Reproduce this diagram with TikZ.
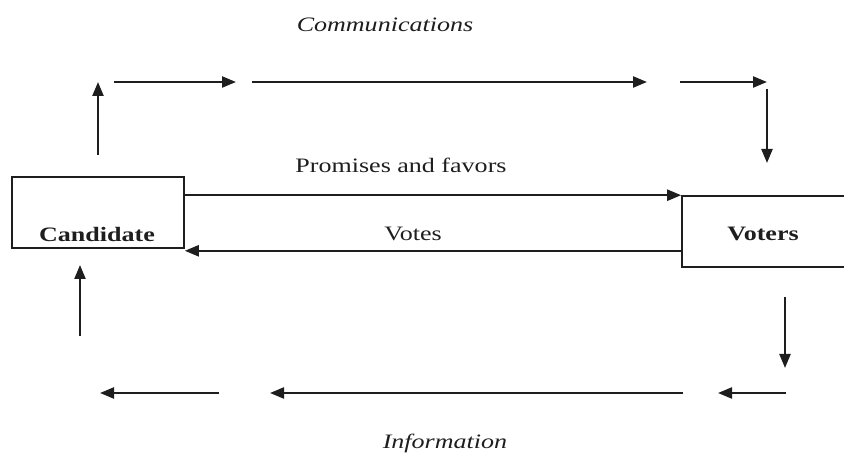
\documentclass[tikz,border=0pt]{standalone}
\usepackage{fontspec}
\setmainfont{Liberation Serif}[FakeStretch=1.27]
\usepackage{tikz}
\usetikzlibrary{calc,arrows.meta,positioning}
\definecolor{inkc}{HTML}{1E1E1E}
\tikzset{
  ar/.style={-{Triangle[length=14pt,width=11pt]},line width=2.3pt,inkc},
  box/.style={draw=inkc,line width=1.6pt,minimum height=71pt,inner sep=0pt},
  lbl/.style={font=\fontsize{20.5}{24}\selectfont,inkc,inner sep=0pt},
  flow/.style={font=\fontsize{20.5}{24}\selectfont\itshape,inkc,inner sep=0pt}
}
\begin{document}
\begin{tikzpicture}[x=1pt,y=-1pt]
\useasboundingbox (0,0) rectangle (844,454);
% boxes
\node[box,minimum width=172pt] (cand) at (98,212.5) {};
\node[box,minimum width=170pt] (vot) at (767,231.5) {};
\node[lbl,font=\fontsize{20.5}{24}\selectfont\bfseries] (candtxt) at (97,234) {Candidate};
\node[lbl,font=\fontsize{20.5}{24}\selectfont\bfseries] (vottxt) at (763,234) {Voters};
% exchange
\coordinate (vt) at ($(cand.south east)+(0,2)$);
\draw[ar] (cand.east |- vot.north west) -- (vot.north west);
\draw[ar] (vt -| vot.west) -- (vt);
\node[lbl] (prom) at (401,165) {Promises and favors};
\node[lbl] (votes) at (413,234) {Votes};
% communications loop
\coordinate (t0) at (98,155);
\coordinate (t1) at (98,82);
\coordinate (t2) at (114,82);
\coordinate (t3) at (236,82);
\coordinate (t4) at (252,82);
\coordinate (t5) at (647,82);
\coordinate (t6) at (680,82);
\coordinate (t7) at (767,82);
\coordinate (t8) at (767,89);
\coordinate (t9) at (767,163);
\draw[ar] (t0) -- (t1);
\draw[ar] (t2) -- (t3);
\draw[ar] (t4) -- (t5);
\draw[ar] (t6) -- (t7);
\draw[ar] (t8) -- (t9);
\node[flow] (comm) at (385,25) {Communications};
% information loop
\coordinate (b0) at (785,297);
\coordinate (b1) at (785,368);
\coordinate (b2) at (786,393);
\coordinate (b3) at (718,393);
\coordinate (b4) at (683,393);
\coordinate (b5) at (270,393);
\coordinate (b6) at (219,393);
\coordinate (b7) at (100,393);
\coordinate (b8) at (80,336);
\coordinate (b9) at (80,265);
\draw[ar] (b0) -- (b1);
\draw[ar] (b2) -- (b3);
\draw[ar] (b4) -- (b5);
\draw[ar] (b6) -- (b7);
\draw[ar] (b8) -- (b9);
\node[flow] (info) at (445,443) {Information};
\end{tikzpicture}
\end{document}
